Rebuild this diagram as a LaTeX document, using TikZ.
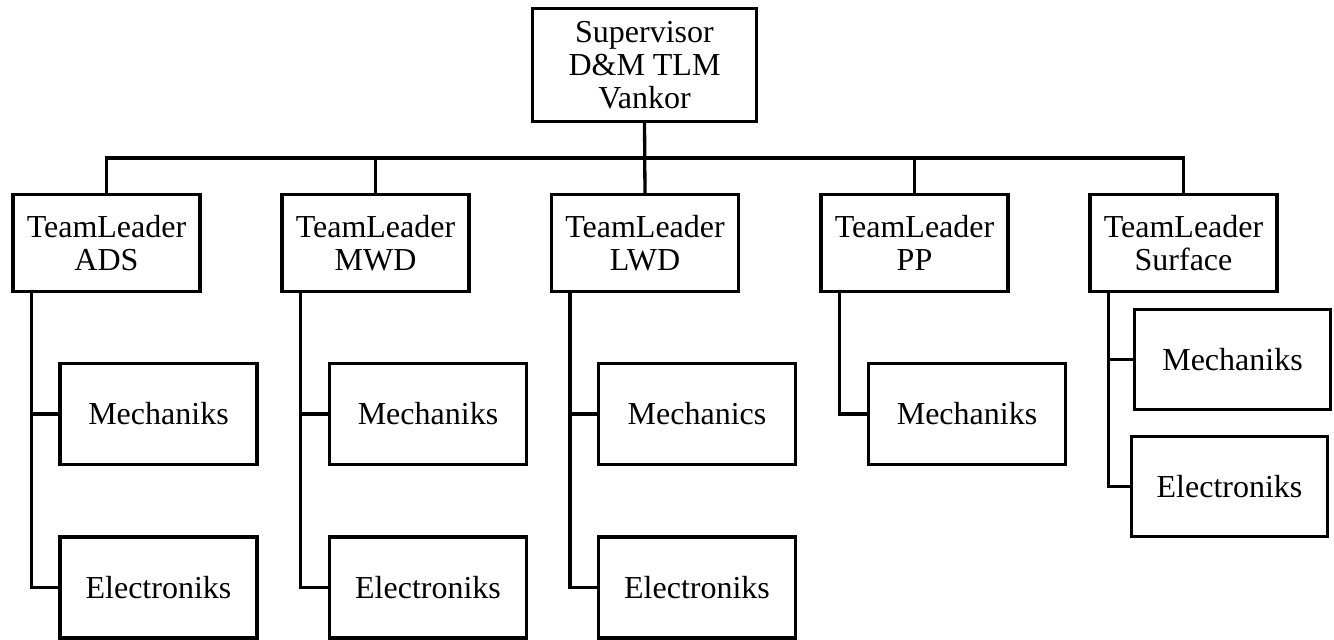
\documentclass[tikz,border=0pt]{standalone}
\usepackage{fontspec}
\setmainfont{Liberation Serif}
\begin{document}
\begin{tikzpicture}[x=1pt,y=-1pt,
  box/.style={draw=black, line width=3.3pt, inner sep=0pt, outer sep=0pt, align=center,
    font=\fontsize{32}{33}\selectfont},
  topbox/.style={box, minimum width=224pt, minimum height=113pt},
  leadbox/.style={box, minimum width=187pt, minimum height=97pt},
  unitbox/.style={box, minimum width=197pt, minimum height=101pt},
  link/.style={draw=black, line width=3.3pt}]
\useasboundingbox (0,0) rectangle (1334,640);
% top
\node[topbox] (sup) at (644.5,65) {Supervisor\\D\&M TLM\\Vankor};
% team leaders
\node[leadbox] (ads)  at (106.5,243) {TeamLeader\\ADS};
\node[leadbox] (mwd)  at (375.5,243) {TeamLeader\\MWD};
\node[leadbox] (lwd)  at (645,243)   {TeamLeader\\LWD};
\node[leadbox] (pp)   at (914.5,243) {TeamLeader\\PP};
\node[leadbox] (surf) at (1183.5,243) {TeamLeader\\Surface};
% units
\node[unitbox] (adsm) at (158.5,414)   {Mechaniks};
\node[unitbox] (adse) at (158.5,587.5) {Electroniks};
\node[unitbox] (mwdm) at (428,414)     {Mechaniks};
\node[unitbox] (mwde) at (428,587.5)   {Electroniks};
\node[unitbox] (lwdm) at (697,414)     {Mechanics};
\node[unitbox] (lwde) at (697,587.5)   {Electroniks};
\node[unitbox] (ppm)  at (967,414)     {Mechaniks};
\node[unitbox, minimum width=196pt, minimum height=100pt] (surfm) at (1232.5,359.5) {Mechaniks};
\node[unitbox, minimum width=196pt, minimum height=100pt] (surfe) at (1229.5,486.5) {Electroniks};
% bus
\coordinate (bus) at (0,158);
\draw[link] (sup.south) -- (lwd.north);
\draw[link] (ads.north) -- (ads.north |- bus) -- (surf.north |- bus) -- (surf.north);
\draw[link] (mwd.north) -- (mwd.north |- bus);
\draw[link] (pp.north) -- (pp.north |- bus);
% unit links
\draw[link] ([xshift=-75pt]ads.south) |- (adsm.west);
\draw[link] ([xshift=-75pt]ads.south) |- (adse.west);
\draw[link] ([xshift=-75pt]mwd.south) |- (mwdm.west);
\draw[link] ([xshift=-75pt]mwd.south) |- (mwde.west);
\draw[link] ([xshift=-75pt]lwd.south) |- (lwdm.west);
\draw[link] ([xshift=-75pt]lwd.south) |- (lwde.west);
\draw[link] ([xshift=-75pt]pp.south) |- (ppm.west);
\draw[link] ([xshift=-75pt]surf.south) |- (surfm.west);
\draw[link] ([xshift=-75pt]surf.south) |- (surfe.west);
\end{tikzpicture}
\end{document}
